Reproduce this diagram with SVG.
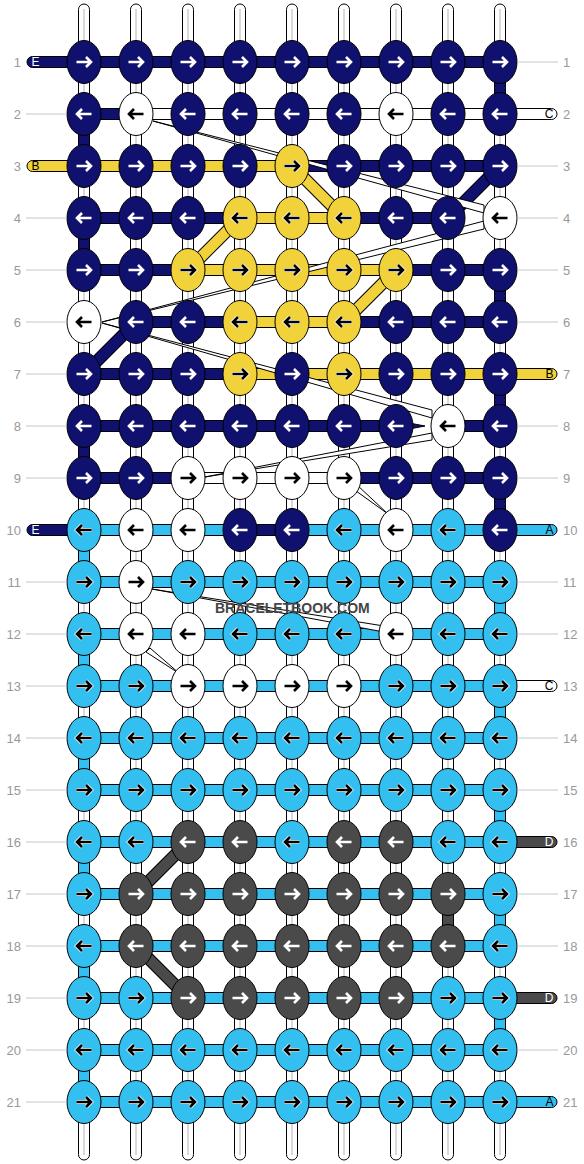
<svg xmlns="http://www.w3.org/2000/svg" xmlns:xlink="http://www.w3.org/1999/xlink" width="584" height="1164" viewBox="0 0 584 1164">
<style>
.s{fill:#fff;stroke:#000;stroke-width:1}
.cl{stroke:#b4b4b4;stroke-width:1}
.nv{fill:#10106e;stroke:#000;stroke-width:1}
.ye{fill:#f1d23a;stroke:#000;stroke-width:1}
.lb{fill:#33bfef;stroke:#000;stroke-width:1}
.gy{fill:#4a4a4a;stroke:#000;stroke-width:1}
.wh{fill:#fff;stroke:#000;stroke-width:1}
.aw{fill:none;stroke:#fff;stroke-width:2.6}
.ab{fill:none;stroke:#000;stroke-width:2.6}
.ah{fill:none;stroke:#fff;stroke-width:4.2}
.dk{stroke:#000;stroke-width:12.5}
.dn{stroke:#10106e;stroke-width:10.5}
.dy{stroke:#f1d23a;stroke-width:10.5}
.dg{stroke:#4a4a4a;stroke-width:10.5}
.wg{fill:#fff;stroke:#000;stroke-width:1}
.gl{stroke:#c8c8c8;stroke-width:1}
.num{font-family:"Liberation Sans",Arial,sans-serif;font-size:13px;fill:#999}
.lt{font-family:"Liberation Sans",Arial,sans-serif;font-size:12px}
.wm{font-family:"Liberation Sans",Arial,sans-serif;font-size:14px;font-weight:bold;fill:#454545}
</style>
<defs>
<path id="pr" d="M-7.5,0H7M2,-5L7,0L2,5"/>
<path id="pl" d="M7.5,0H-7M-2,-5L-7,0L-2,5"/>
<g id="NR"><ellipse rx="17" ry="21.5" class="nv"/><use xlink:href="#pr" class="aw"/></g>
<g id="NL"><ellipse rx="17" ry="21.5" class="nv"/><use xlink:href="#pl" class="aw"/></g>
<g id="GR"><ellipse rx="17" ry="21.5" class="gy"/><use xlink:href="#pr" class="aw"/></g>
<g id="GL"><ellipse rx="17" ry="21.5" class="gy"/><use xlink:href="#pl" class="aw"/></g>
<g id="WR"><ellipse rx="17" ry="21.5" class="wh"/><use xlink:href="#pr" class="ab"/></g>
<g id="WL"><ellipse rx="17" ry="21.5" class="wh"/><use xlink:href="#pl" class="ab"/></g>
<g id="YR"><ellipse rx="17" ry="21.5" class="ye"/><use xlink:href="#pr" class="ah"/><use xlink:href="#pr" class="ab"/></g>
<g id="YL"><ellipse rx="17" ry="21.5" class="ye"/><use xlink:href="#pl" class="ah"/><use xlink:href="#pl" class="ab"/></g>
<g id="BR"><ellipse rx="17" ry="21.5" class="lb"/><use xlink:href="#pr" class="ah"/><use xlink:href="#pr" class="ab"/></g>
<g id="BL"><ellipse rx="17" ry="21.5" class="lb"/><use xlink:href="#pl" class="ah"/><use xlink:href="#pl" class="ab"/></g>
</defs>
<rect width="584" height="1164" fill="#fff"/>
<g id="strings">
<rect class="s" x="78.5" y="4" width="11" height="1156" rx="5.5"/><line class="cl" x1="84" y1="9" x2="84" y2="1155"/>
<rect class="s" x="130.5" y="4" width="11" height="1156" rx="5.5"/><line class="cl" x1="136" y1="9" x2="136" y2="1155"/>
<rect class="s" x="182.5" y="4" width="11" height="1156" rx="5.5"/><line class="cl" x1="188" y1="9" x2="188" y2="1155"/>
<rect class="s" x="234.5" y="4" width="11" height="1156" rx="5.5"/><line class="cl" x1="240" y1="9" x2="240" y2="1155"/>
<rect class="s" x="286.5" y="4" width="11" height="1156" rx="5.5"/><line class="cl" x1="292" y1="9" x2="292" y2="1155"/>
<rect class="s" x="338.5" y="4" width="11" height="1156" rx="5.5"/><line class="cl" x1="344" y1="9" x2="344" y2="1155"/>
<rect class="s" x="390.5" y="4" width="11" height="1156" rx="5.5"/><line class="cl" x1="396" y1="9" x2="396" y2="1155"/>
<rect class="s" x="442.5" y="4" width="11" height="1156" rx="5.5"/><line class="cl" x1="448" y1="9" x2="448" y2="1155"/>
<rect class="s" x="494.5" y="4" width="11" height="1156" rx="5.5"/><line class="cl" x1="500" y1="9" x2="500" y2="1155"/>
</g>
<g id="connectors">
<rect class="nv" x="494.5" y="62" width="11" height="52"/>
<rect class="nv" x="78.5" y="114" width="11" height="52"/>
<rect class="nv" x="78.5" y="218" width="11" height="52"/>
<rect class="nv" x="494.5" y="270" width="11" height="52"/>
<rect class="nv" x="494.5" y="374" width="11" height="52"/>
<rect class="nv" x="78.5" y="426" width="11" height="52"/>
<rect class="nv" x="494.5" y="478" width="11" height="52"/>
<rect class="lb" x="78.5" y="530" width="11" height="52"/>
<rect class="lb" x="78.5" y="634" width="11" height="52"/>
<rect class="lb" x="78.5" y="738" width="11" height="52"/>
<rect class="lb" x="78.5" y="842" width="11" height="52"/>
<rect class="lb" x="78.5" y="946" width="11" height="52"/>
<rect class="lb" x="78.5" y="1050" width="11" height="52"/>
<rect class="lb" x="494.5" y="582" width="11" height="52"/>
<rect class="lb" x="494.5" y="686" width="11" height="52"/>
<rect class="lb" x="494.5" y="790" width="11" height="52"/>
<rect class="lb" x="494.5" y="894" width="11" height="52"/>
<rect class="lb" x="494.5" y="998" width="11" height="52"/>
<rect class="gy" x="442.5" y="894" width="11" height="52"/>
<rect class="nv" x="27" y="56.5" width="473" height="11" rx="5.5"/>
<rect class="nv" x="84" y="108.5" width="52" height="11"/>
<rect class="wh" x="136" y="108.5" width="421" height="11" rx="5.5"/>
<rect class="ye" x="27" y="160.5" width="265" height="11" rx="5.5"/>
<rect class="nv" x="292" y="160.5" width="208" height="11"/>
<rect class="nv" x="84" y="212.5" width="156" height="11"/>
<rect class="ye" x="240" y="212.5" width="104" height="11"/>
<rect class="nv" x="344" y="212.5" width="104" height="11"/>
<rect class="nv" x="84" y="264.5" width="104" height="11"/>
<rect class="ye" x="188" y="264.5" width="208" height="11"/>
<rect class="nv" x="396" y="264.5" width="104" height="11"/>
<rect class="nv" x="136" y="316.5" width="104" height="11"/>
<rect class="ye" x="240" y="316.5" width="104" height="11"/>
<rect class="nv" x="344" y="316.5" width="156" height="11"/>
<rect class="nv" x="84" y="368.5" width="156" height="11"/>
<rect class="ye" x="240" y="368.5" width="317" height="11" rx="5.5"/>
<rect class="nv" x="84" y="420.5" width="312" height="11"/>
<polygon class="nv" points="396,420.5 396,431.5 425,426"/>
<rect class="nv" x="448" y="420.5" width="52" height="11"/>
<rect class="nv" x="84" y="472.5" width="104" height="11"/>
<rect class="wh" x="188" y="472.5" width="156" height="11"/>
<rect class="nv" x="344" y="472.5" width="156" height="11"/>
<rect class="nv" x="27" y="524.5" width="60" height="11" rx="5.5"/>
<rect class="lb" x="84" y="524.5" width="156" height="11"/>
<rect class="nv" x="240" y="524.5" width="52" height="11"/>
<rect class="lb" x="292" y="524.5" width="265" height="11" rx="5.5"/>
<rect class="lb" x="84" y="576.5" width="416" height="11"/>
<rect class="lb" x="84" y="628.5" width="416" height="11"/>
<rect class="lb" x="84" y="680.5" width="416" height="11"/>
<rect class="wh" x="497" y="680.5" width="60" height="11" rx="5.5"/>
<rect class="lb" x="84" y="732.5" width="416" height="11"/>
<rect class="lb" x="84" y="784.5" width="416" height="11"/>
<rect class="lb" x="84" y="836.5" width="416" height="11"/>
<rect class="gy" x="497" y="836.5" width="60" height="11" rx="5.5"/>
<rect class="lb" x="84" y="888.5" width="416" height="11"/>
<rect class="lb" x="84" y="940.5" width="416" height="11"/>
<rect class="lb" x="84" y="992.5" width="416" height="11"/>
<rect class="gy" x="497" y="992.5" width="60" height="11" rx="5.5"/>
<rect class="lb" x="84" y="1044.5" width="416" height="11"/>
<rect class="lb" x="84" y="1096.5" width="473" height="11" rx="5.5"/>
<line class="dk" x1="292" y1="166" x2="344" y2="218"/><line class="dy" x1="292" y1="166" x2="344" y2="218"/>
<line class="dk" x1="240" y1="218" x2="188" y2="270"/><line class="dy" x1="240" y1="218" x2="188" y2="270"/>
<line class="dk" x1="396" y1="270" x2="344" y2="322"/><line class="dy" x1="396" y1="270" x2="344" y2="322"/>
<line class="dk" x1="500" y1="166" x2="448" y2="218"/><line class="dn" x1="500" y1="166" x2="448" y2="218"/>
<line class="dk" x1="136" y1="322" x2="84" y2="374"/><line class="dn" x1="136" y1="322" x2="84" y2="374"/>
<line class="dk" x1="188" y1="842" x2="136" y2="894"/><line class="dg" x1="188" y1="842" x2="136" y2="894"/>
<line class="dk" x1="136" y1="946" x2="188" y2="998"/><line class="dg" x1="136" y1="946" x2="188" y2="998"/>
<polygon class="wg" points="153,121 484,205 484,213"/>
<polygon class="wg" points="484,221 484,229 102,322"/>
<polygon class="wg" points="102,323 432,410 432,418"/>
<polygon class="wg" points="432,433 432,440 205,477"/>
<polygon class="wg" points="352,488 356,484 388,514"/>
<polygon class="wg" points="152,589 384,626 384,632"/>
<polygon class="wg" points="146,652 150,648 180,674"/>
</g>
<g id="nodes">
<g id="n1-1"><use xlink:href="#NR" x="84" y="62"/></g><g id="n1-2"><use xlink:href="#NR" x="136" y="62"/></g><g id="n1-3"><use xlink:href="#NR" x="188" y="62"/></g><g id="n1-4"><use xlink:href="#NR" x="240" y="62"/></g><g id="n1-5"><use xlink:href="#NR" x="292" y="62"/></g><g id="n1-6"><use xlink:href="#NR" x="344" y="62"/></g><g id="n1-7"><use xlink:href="#NR" x="396" y="62"/></g><g id="n1-8"><use xlink:href="#NR" x="448" y="62"/></g><g id="n1-9"><use xlink:href="#NR" x="500" y="62"/></g>
<g id="n2-1"><use xlink:href="#NL" x="84" y="114"/></g><g id="n2-2"><use xlink:href="#WL" x="136" y="114"/></g><g id="n2-3"><use xlink:href="#NL" x="188" y="114"/></g><g id="n2-4"><use xlink:href="#NL" x="240" y="114"/></g><g id="n2-5"><use xlink:href="#NL" x="292" y="114"/></g><g id="n2-6"><use xlink:href="#NL" x="344" y="114"/></g><g id="n2-7"><use xlink:href="#WL" x="396" y="114"/></g><g id="n2-8"><use xlink:href="#NL" x="448" y="114"/></g><g id="n2-9"><use xlink:href="#NL" x="500" y="114"/></g>
<g id="n3-1"><use xlink:href="#NR" x="84" y="166"/></g><g id="n3-2"><use xlink:href="#NR" x="136" y="166"/></g><g id="n3-3"><use xlink:href="#NR" x="188" y="166"/></g><g id="n3-4"><use xlink:href="#NR" x="240" y="166"/></g><g id="n3-5"><use xlink:href="#YR" x="292" y="166"/></g><g id="n3-6"><use xlink:href="#NR" x="344" y="166"/></g><g id="n3-7"><use xlink:href="#NR" x="396" y="166"/></g><g id="n3-8"><use xlink:href="#NR" x="448" y="166"/></g><g id="n3-9"><use xlink:href="#NR" x="500" y="166"/></g>
<g id="n4-1"><use xlink:href="#NL" x="84" y="218"/></g><g id="n4-2"><use xlink:href="#NL" x="136" y="218"/></g><g id="n4-3"><use xlink:href="#NL" x="188" y="218"/></g><g id="n4-4"><use xlink:href="#YL" x="240" y="218"/></g><g id="n4-5"><use xlink:href="#YL" x="292" y="218"/></g><g id="n4-6"><use xlink:href="#YL" x="344" y="218"/></g><g id="n4-7"><use xlink:href="#NL" x="396" y="218"/></g><g id="n4-8"><use xlink:href="#NL" x="448" y="218"/></g><g id="n4-9"><use xlink:href="#WL" x="500" y="218"/></g>
<g id="n5-1"><use xlink:href="#NR" x="84" y="270"/></g><g id="n5-2"><use xlink:href="#NR" x="136" y="270"/></g><g id="n5-3"><use xlink:href="#YR" x="188" y="270"/></g><g id="n5-4"><use xlink:href="#YR" x="240" y="270"/></g><g id="n5-5"><use xlink:href="#YR" x="292" y="270"/></g><g id="n5-6"><use xlink:href="#YR" x="344" y="270"/></g><g id="n5-7"><use xlink:href="#YR" x="396" y="270"/></g><g id="n5-8"><use xlink:href="#NR" x="448" y="270"/></g><g id="n5-9"><use xlink:href="#NR" x="500" y="270"/></g>
<g id="n6-1"><use xlink:href="#WL" x="84" y="322"/></g><g id="n6-2"><use xlink:href="#NL" x="136" y="322"/></g><g id="n6-3"><use xlink:href="#NL" x="188" y="322"/></g><g id="n6-4"><use xlink:href="#YL" x="240" y="322"/></g><g id="n6-5"><use xlink:href="#YL" x="292" y="322"/></g><g id="n6-6"><use xlink:href="#YL" x="344" y="322"/></g><g id="n6-7"><use xlink:href="#NL" x="396" y="322"/></g><g id="n6-8"><use xlink:href="#NL" x="448" y="322"/></g><g id="n6-9"><use xlink:href="#NL" x="500" y="322"/></g>
<g id="n7-1"><use xlink:href="#NR" x="84" y="374"/></g><g id="n7-2"><use xlink:href="#NR" x="136" y="374"/></g><g id="n7-3"><use xlink:href="#NR" x="188" y="374"/></g><g id="n7-4"><use xlink:href="#YR" x="240" y="374"/></g><g id="n7-5"><use xlink:href="#NR" x="292" y="374"/></g><g id="n7-6"><use xlink:href="#YR" x="344" y="374"/></g><g id="n7-7"><use xlink:href="#NR" x="396" y="374"/></g><g id="n7-8"><use xlink:href="#NR" x="448" y="374"/></g><g id="n7-9"><use xlink:href="#NR" x="500" y="374"/></g>
<g id="n8-1"><use xlink:href="#NL" x="84" y="426"/></g><g id="n8-2"><use xlink:href="#NL" x="136" y="426"/></g><g id="n8-3"><use xlink:href="#NL" x="188" y="426"/></g><g id="n8-4"><use xlink:href="#NL" x="240" y="426"/></g><g id="n8-5"><use xlink:href="#NL" x="292" y="426"/></g><g id="n8-6"><use xlink:href="#NL" x="344" y="426"/></g><g id="n8-7"><use xlink:href="#NL" x="396" y="426"/></g><g id="n8-8"><use xlink:href="#WL" x="448" y="426"/></g><g id="n8-9"><use xlink:href="#NL" x="500" y="426"/></g>
<g id="n9-1"><use xlink:href="#NR" x="84" y="478"/></g><g id="n9-2"><use xlink:href="#NR" x="136" y="478"/></g><g id="n9-3"><use xlink:href="#WR" x="188" y="478"/></g><g id="n9-4"><use xlink:href="#WR" x="240" y="478"/></g><g id="n9-5"><use xlink:href="#WR" x="292" y="478"/></g><g id="n9-6"><use xlink:href="#WR" x="344" y="478"/></g><g id="n9-7"><use xlink:href="#NR" x="396" y="478"/></g><g id="n9-8"><use xlink:href="#NR" x="448" y="478"/></g><g id="n9-9"><use xlink:href="#NR" x="500" y="478"/></g>
<g id="n10-1"><use xlink:href="#BL" x="84" y="530"/></g><g id="n10-2"><use xlink:href="#WL" x="136" y="530"/></g><g id="n10-3"><use xlink:href="#WL" x="188" y="530"/></g><g id="n10-4"><use xlink:href="#NL" x="240" y="530"/></g><g id="n10-5"><use xlink:href="#NL" x="292" y="530"/></g><g id="n10-6"><use xlink:href="#BL" x="344" y="530"/></g><g id="n10-7"><use xlink:href="#WL" x="396" y="530"/></g><g id="n10-8"><use xlink:href="#BL" x="448" y="530"/></g><g id="n10-9"><use xlink:href="#NL" x="500" y="530"/></g>
<g id="n11-1"><use xlink:href="#BR" x="84" y="582"/></g><g id="n11-2"><use xlink:href="#WR" x="136" y="582"/></g><g id="n11-3"><use xlink:href="#BR" x="188" y="582"/></g><g id="n11-4"><use xlink:href="#BR" x="240" y="582"/></g><g id="n11-5"><use xlink:href="#BR" x="292" y="582"/></g><g id="n11-6"><use xlink:href="#BR" x="344" y="582"/></g><g id="n11-7"><use xlink:href="#BR" x="396" y="582"/></g><g id="n11-8"><use xlink:href="#BR" x="448" y="582"/></g><g id="n11-9"><use xlink:href="#BR" x="500" y="582"/></g>
<g id="n12-1"><use xlink:href="#BL" x="84" y="634"/></g><g id="n12-2"><use xlink:href="#WL" x="136" y="634"/></g><g id="n12-3"><use xlink:href="#WL" x="188" y="634"/></g><g id="n12-4"><use xlink:href="#BL" x="240" y="634"/></g><g id="n12-5"><use xlink:href="#BL" x="292" y="634"/></g><g id="n12-6"><use xlink:href="#BL" x="344" y="634"/></g><g id="n12-7"><use xlink:href="#WL" x="396" y="634"/></g><g id="n12-8"><use xlink:href="#BL" x="448" y="634"/></g><g id="n12-9"><use xlink:href="#BL" x="500" y="634"/></g>
<g id="n13-1"><use xlink:href="#BR" x="84" y="686"/></g><g id="n13-2"><use xlink:href="#BR" x="136" y="686"/></g><g id="n13-3"><use xlink:href="#WR" x="188" y="686"/></g><g id="n13-4"><use xlink:href="#WR" x="240" y="686"/></g><g id="n13-5"><use xlink:href="#WR" x="292" y="686"/></g><g id="n13-6"><use xlink:href="#WR" x="344" y="686"/></g><g id="n13-7"><use xlink:href="#BR" x="396" y="686"/></g><g id="n13-8"><use xlink:href="#BR" x="448" y="686"/></g><g id="n13-9"><use xlink:href="#BR" x="500" y="686"/></g>
<g id="n14-1"><use xlink:href="#BL" x="84" y="738"/></g><g id="n14-2"><use xlink:href="#BL" x="136" y="738"/></g><g id="n14-3"><use xlink:href="#BL" x="188" y="738"/></g><g id="n14-4"><use xlink:href="#BL" x="240" y="738"/></g><g id="n14-5"><use xlink:href="#BL" x="292" y="738"/></g><g id="n14-6"><use xlink:href="#BL" x="344" y="738"/></g><g id="n14-7"><use xlink:href="#BL" x="396" y="738"/></g><g id="n14-8"><use xlink:href="#BL" x="448" y="738"/></g><g id="n14-9"><use xlink:href="#BL" x="500" y="738"/></g>
<g id="n15-1"><use xlink:href="#BR" x="84" y="790"/></g><g id="n15-2"><use xlink:href="#BR" x="136" y="790"/></g><g id="n15-3"><use xlink:href="#BR" x="188" y="790"/></g><g id="n15-4"><use xlink:href="#BR" x="240" y="790"/></g><g id="n15-5"><use xlink:href="#BR" x="292" y="790"/></g><g id="n15-6"><use xlink:href="#BR" x="344" y="790"/></g><g id="n15-7"><use xlink:href="#BR" x="396" y="790"/></g><g id="n15-8"><use xlink:href="#BR" x="448" y="790"/></g><g id="n15-9"><use xlink:href="#BR" x="500" y="790"/></g>
<g id="n16-1"><use xlink:href="#BL" x="84" y="842"/></g><g id="n16-2"><use xlink:href="#BL" x="136" y="842"/></g><g id="n16-3"><use xlink:href="#GL" x="188" y="842"/></g><g id="n16-4"><use xlink:href="#GL" x="240" y="842"/></g><g id="n16-5"><use xlink:href="#BL" x="292" y="842"/></g><g id="n16-6"><use xlink:href="#GL" x="344" y="842"/></g><g id="n16-7"><use xlink:href="#GL" x="396" y="842"/></g><g id="n16-8"><use xlink:href="#BL" x="448" y="842"/></g><g id="n16-9"><use xlink:href="#BL" x="500" y="842"/></g>
<g id="n17-1"><use xlink:href="#BR" x="84" y="894"/></g><g id="n17-2"><use xlink:href="#GR" x="136" y="894"/></g><g id="n17-3"><use xlink:href="#GR" x="188" y="894"/></g><g id="n17-4"><use xlink:href="#GR" x="240" y="894"/></g><g id="n17-5"><use xlink:href="#GR" x="292" y="894"/></g><g id="n17-6"><use xlink:href="#GR" x="344" y="894"/></g><g id="n17-7"><use xlink:href="#GR" x="396" y="894"/></g><g id="n17-8"><use xlink:href="#GR" x="448" y="894"/></g><g id="n17-9"><use xlink:href="#BR" x="500" y="894"/></g>
<g id="n18-1"><use xlink:href="#BL" x="84" y="946"/></g><g id="n18-2"><use xlink:href="#GL" x="136" y="946"/></g><g id="n18-3"><use xlink:href="#GL" x="188" y="946"/></g><g id="n18-4"><use xlink:href="#GL" x="240" y="946"/></g><g id="n18-5"><use xlink:href="#GL" x="292" y="946"/></g><g id="n18-6"><use xlink:href="#GL" x="344" y="946"/></g><g id="n18-7"><use xlink:href="#GL" x="396" y="946"/></g><g id="n18-8"><use xlink:href="#GL" x="448" y="946"/></g><g id="n18-9"><use xlink:href="#BL" x="500" y="946"/></g>
<g id="n19-1"><use xlink:href="#BR" x="84" y="998"/></g><g id="n19-2"><use xlink:href="#BR" x="136" y="998"/></g><g id="n19-3"><use xlink:href="#GR" x="188" y="998"/></g><g id="n19-4"><use xlink:href="#GR" x="240" y="998"/></g><g id="n19-5"><use xlink:href="#GR" x="292" y="998"/></g><g id="n19-6"><use xlink:href="#GR" x="344" y="998"/></g><g id="n19-7"><use xlink:href="#GR" x="396" y="998"/></g><g id="n19-8"><use xlink:href="#BR" x="448" y="998"/></g><g id="n19-9"><use xlink:href="#BR" x="500" y="998"/></g>
<g id="n20-1"><use xlink:href="#BL" x="84" y="1050"/></g><g id="n20-2"><use xlink:href="#BL" x="136" y="1050"/></g><g id="n20-3"><use xlink:href="#BL" x="188" y="1050"/></g><g id="n20-4"><use xlink:href="#BL" x="240" y="1050"/></g><g id="n20-5"><use xlink:href="#BL" x="292" y="1050"/></g><g id="n20-6"><use xlink:href="#BL" x="344" y="1050"/></g><g id="n20-7"><use xlink:href="#BL" x="396" y="1050"/></g><g id="n20-8"><use xlink:href="#BL" x="448" y="1050"/></g><g id="n20-9"><use xlink:href="#BL" x="500" y="1050"/></g>
<g id="n21-1"><use xlink:href="#BR" x="84" y="1102"/></g><g id="n21-2"><use xlink:href="#BR" x="136" y="1102"/></g><g id="n21-3"><use xlink:href="#BR" x="188" y="1102"/></g><g id="n21-4"><use xlink:href="#BR" x="240" y="1102"/></g><g id="n21-5"><use xlink:href="#BR" x="292" y="1102"/></g><g id="n21-6"><use xlink:href="#BR" x="344" y="1102"/></g><g id="n21-7"><use xlink:href="#BR" x="396" y="1102"/></g><g id="n21-8"><use xlink:href="#BR" x="448" y="1102"/></g><g id="n21-9"><use xlink:href="#BR" x="500" y="1102"/></g>
</g>
<g id="labels">
<g class="gl">
<line x1="26" y1="114" x2="67" y2="114"/><line x1="26" y1="218" x2="67" y2="218"/><line x1="26" y1="270" x2="67" y2="270"/><line x1="26" y1="322" x2="67" y2="322"/><line x1="26" y1="374" x2="67" y2="374"/><line x1="26" y1="426" x2="67" y2="426"/><line x1="26" y1="478" x2="67" y2="478"/><line x1="26" y1="582" x2="67" y2="582"/><line x1="26" y1="634" x2="67" y2="634"/><line x1="26" y1="686" x2="67" y2="686"/><line x1="26" y1="738" x2="67" y2="738"/><line x1="26" y1="790" x2="67" y2="790"/><line x1="26" y1="842" x2="67" y2="842"/><line x1="26" y1="894" x2="67" y2="894"/><line x1="26" y1="946" x2="67" y2="946"/><line x1="26" y1="998" x2="67" y2="998"/><line x1="26" y1="1050" x2="67" y2="1050"/><line x1="26" y1="1102" x2="67" y2="1102"/>
<line x1="517" y1="62" x2="558" y2="62"/><line x1="517" y1="166" x2="558" y2="166"/><line x1="517" y1="218" x2="558" y2="218"/><line x1="517" y1="270" x2="558" y2="270"/><line x1="517" y1="322" x2="558" y2="322"/><line x1="517" y1="426" x2="558" y2="426"/><line x1="517" y1="478" x2="558" y2="478"/><line x1="517" y1="582" x2="558" y2="582"/><line x1="517" y1="634" x2="558" y2="634"/><line x1="517" y1="738" x2="558" y2="738"/><line x1="517" y1="790" x2="558" y2="790"/><line x1="517" y1="894" x2="558" y2="894"/><line x1="517" y1="946" x2="558" y2="946"/><line x1="517" y1="1050" x2="558" y2="1050"/>
</g>
<g class="num" text-anchor="end">
<text x="21" y="66.5">1</text><text x="21" y="118.5">2</text><text x="21" y="170.5">3</text><text x="21" y="222.5">4</text><text x="21" y="274.5">5</text><text x="21" y="326.5">6</text><text x="21" y="378.5">7</text><text x="21" y="430.5">8</text><text x="21" y="482.5">9</text><text x="21" y="534.5">10</text><text x="21" y="586.5">11</text><text x="21" y="638.5">12</text><text x="21" y="690.5">13</text><text x="21" y="742.5">14</text><text x="21" y="794.5">15</text><text x="21" y="846.5">16</text><text x="21" y="898.5">17</text><text x="21" y="950.5">18</text><text x="21" y="1002.5">19</text><text x="21" y="1054.5">20</text><text x="21" y="1106.5">21</text>
</g>
<g class="num">
<text x="563" y="66.5">1</text><text x="563" y="118.5">2</text><text x="563" y="170.5">3</text><text x="563" y="222.5">4</text><text x="563" y="274.5">5</text><text x="563" y="326.5">6</text><text x="563" y="378.5">7</text><text x="563" y="430.5">8</text><text x="563" y="482.5">9</text><text x="563" y="534.5">10</text><text x="563" y="586.5">11</text><text x="563" y="638.5">12</text><text x="563" y="690.5">13</text><text x="563" y="742.5">14</text><text x="563" y="794.5">15</text><text x="563" y="846.5">16</text><text x="563" y="898.5">17</text><text x="563" y="950.5">18</text><text x="563" y="1002.5">19</text><text x="563" y="1054.5">20</text><text x="563" y="1106.5">21</text>
</g>
<g class="lt">
<text x="31.5" y="66.3" fill="#fff">E</text>
<text x="31.5" y="170.3" fill="#000">B</text>
<text x="31.5" y="534.3" fill="#fff">E</text>
</g>
<g class="lt" text-anchor="end">
<text x="553.5" y="118.3" fill="#000">C</text>
<text x="553.5" y="378.3" fill="#000">B</text>
<text x="553.5" y="534.3" fill="#000">A</text>
<text x="553.5" y="690.3" fill="#000">C</text>
<text x="553.5" y="846.3" fill="#fff">D</text>
<text x="553.5" y="1002.3" fill="#fff">D</text>
<text x="553.5" y="1106.3" fill="#000">A</text>
</g>
<text class="wm" x="215" y="612.5">BRACELETBOOK.COM</text>
</g>
</svg>
